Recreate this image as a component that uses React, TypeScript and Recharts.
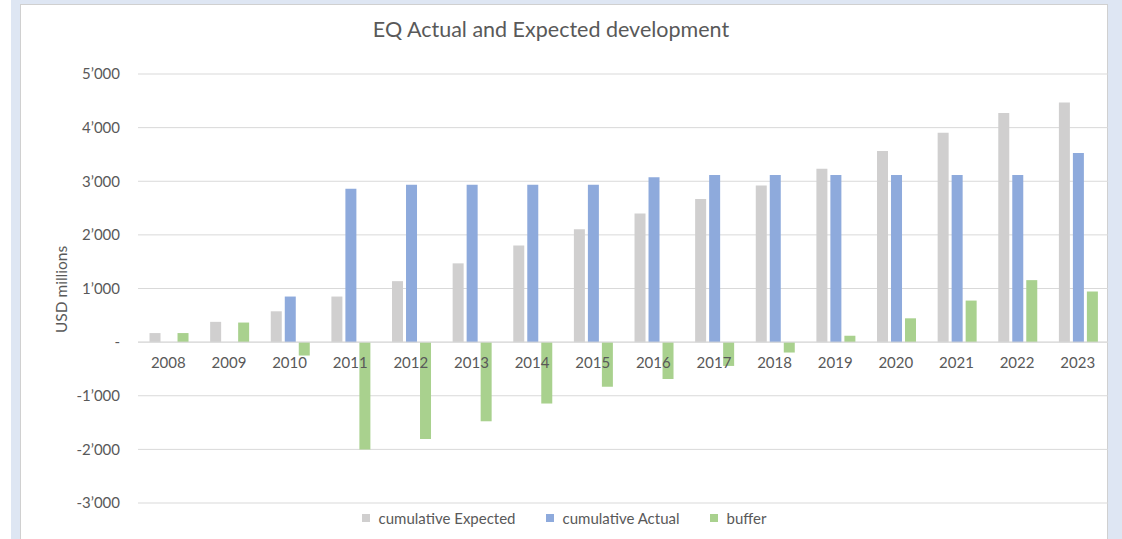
import React from 'react';
import { BarChart, Bar, XAxis, YAxis, CartesianGrid, Legend, ReferenceLine, Label } from 'recharts';

const years = ['2008', '2009', '2010', '2011', '2012', '2013', '2014', '2015', '2016', '2017', '2018', '2019', '2020', '2021', '2022', '2023'];
const cumulativeExpected = [169, 378, 575, 850, 1137, 1469, 1800, 2106, 2400, 2669, 2919, 3231, 3562, 3906, 4275, 4468];
const cumulativeActual = [0, 0, 850, 2862, 2937, 2937, 2937, 2937, 3075, 3118, 3118, 3118, 3118, 3118, 3118, 3525];
const buffer = [169, 365, -250, -2000, -1808, -1476, -1145, -832, -688, -444, -194, 119, 444, 775, 1156, 944];
const yTicks = [-3000, -2000, -1000, 0, 1000, 2000, 3000, 4000, 5000];

const seriesNames = ['cumulative Expected', 'cumulative Actual', 'buffer'];
const colors = ['#d0cfcf', '#8eaadc', '#a9d18e'];

const data = years.map((y, i) => ({
  year: y,
  expected: cumulativeExpected[i],
  actual: cumulativeActual[i],
  buffer: buffer[i],
}));

const FONT = 'Lato, "Open Sans", sans-serif';
const TEXT = '#595959';
const CHART_W = 1088;
const CHART_H = 535;
const X_AXIS_H = 1;
const MARGIN = { top: 70, right: 0, bottom: 36 - X_AXIS_H, left: 0 };
const Y_MIN = yTicks[0];
const Y_MAX = yTicks[yTicks.length - 1];
const PLOT_H = CHART_H - MARGIN.top - MARGIN.bottom - X_AXIS_H;
const ZERO_Y = MARGIN.top + (PLOT_H * Y_MAX) / (Y_MAX - Y_MIN);

const fmt = (v: number) => {
  if (v === 0) return '-';
  const s = Math.abs(v).toString().replace(/\B(?=(\d{3})+(?!\d))/g, '\u2019');
  return (v < 0 ? '-' : '') + s;
};

const XTick = (props: any) => {
  const { x, payload } = props;
  return (
    <text x={x} y={ZERO_Y + 26} textAnchor="middle" fill={TEXT} fontSize={15} fontFamily={FONT}>
      {payload.value}
    </text>
  );
};

const LegendContent = () => (
  <div style={{ display: 'flex', justifyContent: 'center', alignItems: 'center', fontFamily: FONT, fontSize: 15, color: TEXT }}>
    {seriesNames.map((n, i) => (
      <div key={n} style={{ display: 'flex', alignItems: 'center', marginLeft: i === 0 ? 0 : 30 }}>
        <span style={{ width: 8, height: 8, background: colors[i], display: 'inline-block', marginRight: 9 }} />
        <span>{n}</span>
      </div>
    ))}
  </div>
);

export default function App() {
  return (
    <div style={{ position: 'fixed', left: 0, top: 0, width: 1122, height: 539, background: '#ffffff', overflow: 'hidden' }}>
      <div style={{ position: 'absolute', left: 11, top: 0, width: 1111, height: 539, background: '#dee6f3' }} />
      <div
        style={{
          position: 'absolute',
          left: 20,
          top: 4,
          width: 1088,
          height: 545,
          background: '#ffffff',
          border: '1px solid #d0d0d0',
          boxSizing: 'border-box',
        }}
      >
        <div
          style={{
            position: 'absolute',
            left: 0,
            right: 26,
            top: 11,
            textAlign: 'center',
            fontFamily: FONT,
            fontSize: 21.5,
            color: TEXT,
            whiteSpace: 'nowrap',
          }}
        >
          EQ Actual and Expected development
        </div>
        <div style={{ position: 'absolute', left: -1, top: -1 }}>
          <BarChart width={CHART_W} height={CHART_H} data={data} margin={MARGIN} barCategoryGap="19%" barGap={3}>
            <CartesianGrid vertical={false} stroke="#d9d9d9" />
            <XAxis dataKey="year" axisLine={false} tickLine={false} height={X_AXIS_H} tick={<XTick />} interval={0} />
            <YAxis
              domain={[Y_MIN, Y_MAX]}
              ticks={yTicks}
              tickFormatter={fmt}
              axisLine={false}
              tickLine={false}
              tickSize={0}
              tickMargin={18}
              width={118}
              interval={0}
              tick={{ fill: TEXT, fontSize: 15, fontFamily: FONT }}
            >
              <Label
                content={(p: any) => {
                  const vb = p.viewBox || { y: 0, height: 0 };
                  const cx = 41;
                  const cy = vb.y + vb.height / 2 + 1;
                  return (
                    <text
                      x={cx}
                      y={cy}
                      transform={`rotate(-90, ${cx}, ${cy})`}
                      textAnchor="middle"
                      dominantBaseline="central"
                      fill={TEXT}
                      fontSize={15.5}
                      fontFamily={FONT}
                    >
                      USD millions
                    </text>
                  );
                }}
              />
            </YAxis>
            <ReferenceLine y={0} stroke="#d9d9d9" />
            <Legend
              layout="horizontal"
              align="center"
              verticalAlign="middle"
              content={<LegendContent />}
              wrapperStyle={{ position: 'absolute', left: 0, top: 505, width: CHART_W, height: 20 }}
            />
            <Bar dataKey="expected" name={seriesNames[0]} fill={colors[0]} isAnimationActive={false} />
            <Bar dataKey="actual" name={seriesNames[1]} fill={colors[1]} isAnimationActive={false} />
            <Bar dataKey="buffer" name={seriesNames[2]} fill={colors[2]} isAnimationActive={false} />
          </BarChart>
        </div>
      </div>
    </div>
  );
}
